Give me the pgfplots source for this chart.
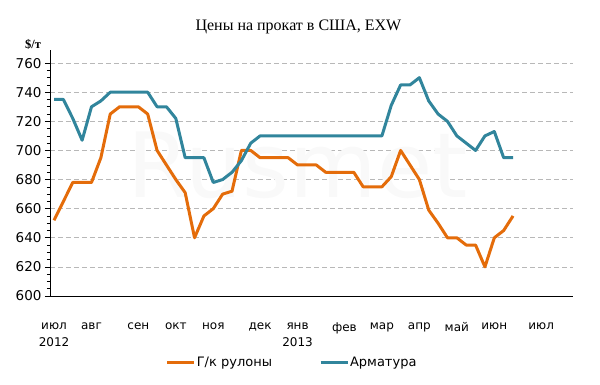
\documentclass[border=0pt]{standalone}
\usepackage{pgfplots}
\usepackage{pgfplotstable}
\pgfplotsset{compat=1.18}
\usepackage{fontspec}
\setmainfont{DejaVu Sans}
\newfontfamily\titlefont{Liberation Serif}
\definecolor{orangeS}{RGB}{228,108,10}
\definecolor{tealS}{RGB}{49,133,156}

\pgfplotstableread{
i hr reb
0 652 735
1 665 735
2 678 722
3 678 707
4 678 730
5 695 734
6 725 740
7 730 740
8 730 740
9 730 740
10 725 740
11 700 730
12 690 730
13 680 722
14 671 695
15 640 695
16 655 695
17 660 678
18 670 680
19 672 685
20 700 693
21 700 705
22 695 710
23 695 710
24 695 710
25 695 710
26 690 710
27 690 710
28 690 710
29 685 710
30 685 710
31 685 710
32 685 710
33 675 710
34 675 710
35 675 710
36 682 731
37 700 745
38 690 745
39 680 750
40 659 734
41 650 725
42 640 720
43 640 710
44 635 705
45 635 700
46 620 710
47 640 713
48 645 695
49 655 695
}\data

\begin{document}
\begin{tikzpicture}
\begin{axis}[
  name=ax,
  scale only axis, width=523pt, height=246pt,
  xmin=-0.43, xmax=55.4, ymin=600, ymax=769,
  axis x line=bottom, axis y line=left,
  axis line style={-, black, line width=0.8pt},
  ytick={600,620,...,760},
  minor y tick num=3,
  tick align=outside,
  major tick length=5pt, minor tick length=3pt,
  tick style={black, line width=0.6pt},
  ymajorgrids,
  grid style={black!28, line width=0.6pt, dash pattern=on 5pt off 3pt},
  /pgf/number format/assume math mode=true,
  yticklabel style={font=\fontsize{13.5}{15}\selectfont},
  xtick={0,4,9,13,17,22,26,31,35,39,43,47,52},
  xticklabels={{июл\\2012},авг,сен,окт,ноя,дек,{янв\\2013},фев,мар,апр,май,июн,июл},
  x tick style={draw=none},
  xticklabel style={align=center, font=\fontsize{12}{17}\selectfont, yshift=-18pt},
  legend columns=2,
  legend style={draw=none, at={(0.462,-0.272)}, anchor=center,
    font=\fontsize{13}{15}\selectfont,
    nodes={inner xsep=1pt},
    /tikz/every even column/.append style={column sep=46pt}},
  legend image code/.code={\draw[#1, line width=3pt] (0pt,0pt) -- (27pt,0pt);},
  clip=false,
]
\node[font=\fontsize{90}{90}\selectfont, text=black!2.5] at (axis cs:26,690) {Rusmet};
\node[font=\titlefont\fontsize{16}{18}\selectfont, anchor=center] at (rel axis cs:0.475,1.0935) {Цены на прокат в США, EXW};
\node[font=\titlefont\bfseries\fontsize{12.5}{14}\selectfont] at (rel axis cs:-0.0325,1.0244) {\$/т};
\addplot[orangeS, line width=3pt, line join=round] table[x=i, y=hr] {\data};
\addlegendentry{Г/к рулоны}
\addplot[tealS, line width=3pt, line join=round] table[x=i, y=reb] {\data};
\addlegendentry{Арматура}
\end{axis}
\pgfresetboundingbox
\path[use as bounding box] ([shift={(-50pt,-88pt)}]ax.south west) rectangle ([shift={(550pt,296pt)}]ax.south west);
\end{tikzpicture}
\end{document}
